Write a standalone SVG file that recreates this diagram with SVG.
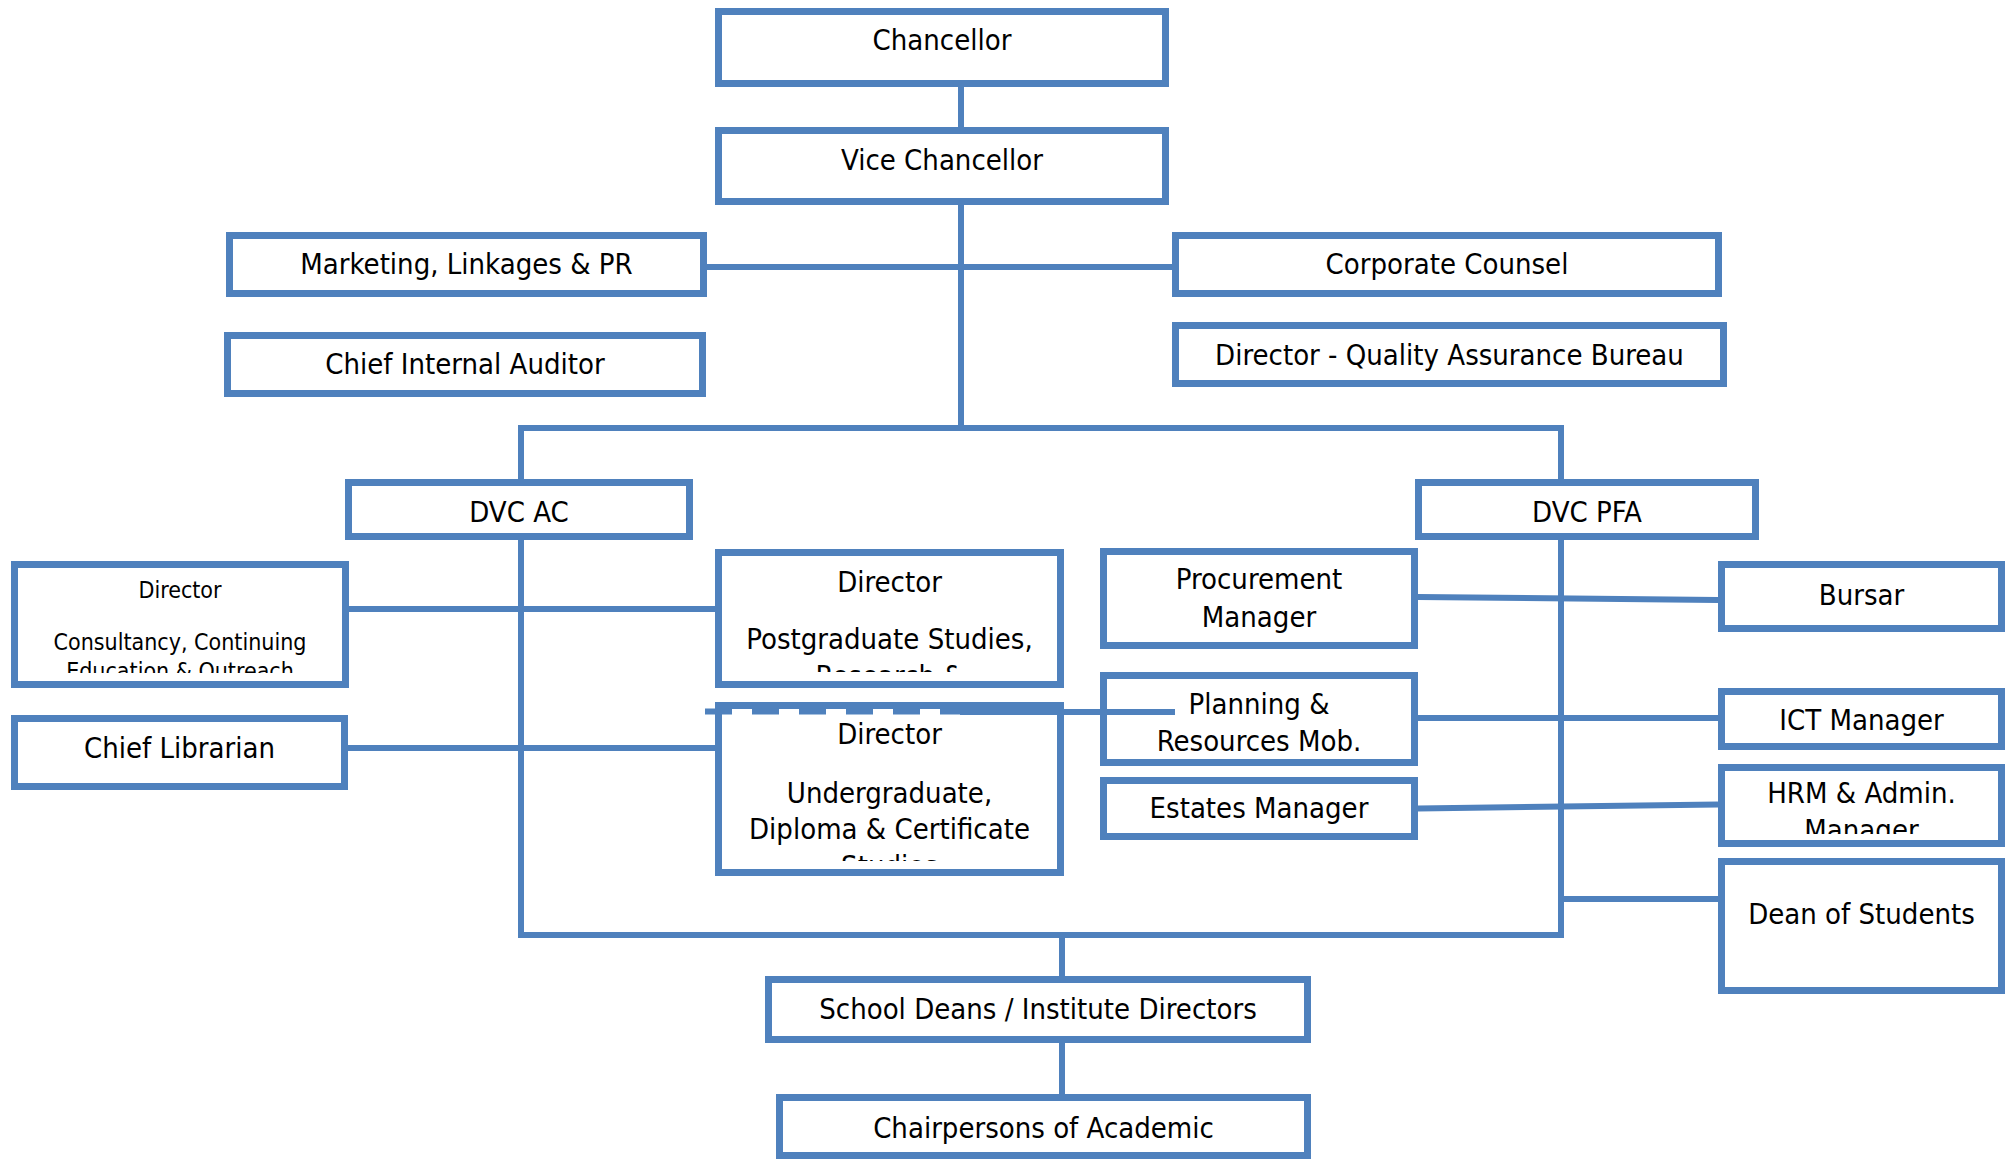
<svg xmlns="http://www.w3.org/2000/svg" width="2009" height="1159" viewBox="0 0 2009 1159">
  <style>
    .box { fill: #fff; stroke: #4F81BD; stroke-width: 7; }
    .ln { fill: none; stroke: #4F81BD; stroke-width: 6; stroke-linejoin: miter; stroke-linecap: butt; }
    .dash { fill: none; stroke: #4F81BD; stroke-width: 6; stroke-dasharray: 27 20; }
    .t { font-family: "DejaVu Sans Condensed", "DejaVu Sans", sans-serif; font-stretch: condensed; font-size: 29px; fill: #000; text-anchor: middle; }
    .s { font-size: 23px; }
  </style>
  <defs>
    <clipPath id="clipCceo"><rect x="14" y="564" width="332" height="109"/></clipPath>
    <clipPath id="clipPg"><rect x="718" y="552" width="343" height="120"/></clipPath>
    <clipPath id="clipUg"><rect x="718" y="705" width="343" height="156"/></clipPath>
    <clipPath id="clipHrm"><rect x="1721" y="767" width="281" height="67"/></clipPath>
  </defs>

  <rect width="2009" height="1159" fill="#fff"/>

  <!-- connectors -->
  <g id="connectors">
    <line class="ln" x1="961" y1="86" x2="961" y2="128"/>
    <line class="ln" x1="961" y1="205" x2="961" y2="428"/>
    <line class="ln" x1="707" y1="267" x2="1172" y2="267"/>
    <path class="ln" d="M521,480 V428 H1561 V480"/>
    <path class="ln" d="M521,540 V935 H1561 V540"/>
    <line class="ln" x1="1062" y1="935" x2="1062" y2="976"/>
    <line class="ln" x1="1062" y1="1043" x2="1062" y2="1094"/>
    <line class="ln" x1="349" y1="609" x2="715" y2="609"/>
    <line class="ln" x1="348" y1="748" x2="715" y2="748"/>
    <line class="ln" x1="1418" y1="597" x2="1718" y2="600"/>
    <line class="ln" x1="1418" y1="718" x2="1718" y2="718"/>
    <line class="ln" x1="1418" y1="808.5" x2="1718" y2="804.5"/>
    <line class="ln" x1="1561" y1="899" x2="1718" y2="899"/>
  </g>

  <!-- nodes -->
  <g id="chancellor">
    <rect class="box" x="718.5" y="11.5" width="447" height="72"/>
    <text class="t" x="942" y="50">Chancellor</text>
  </g>
  <g id="vice-chancellor">
    <rect class="box" x="718.5" y="130.5" width="447" height="71"/>
    <text class="t" x="942" y="170">Vice Chancellor</text>
  </g>
  <g id="marketing">
    <rect class="box" x="229.5" y="235.5" width="474" height="58"/>
    <text class="t" x="466.5" y="274">Marketing, Linkages &amp; PR</text>
  </g>
  <g id="internal-auditor">
    <rect class="box" x="227.5" y="335.5" width="475" height="58"/>
    <text class="t" x="465" y="374">Chief Internal Auditor</text>
  </g>
  <g id="corporate-counsel">
    <rect class="box" x="1175.5" y="235.5" width="543" height="58"/>
    <text class="t" x="1447" y="274">Corporate Counsel</text>
  </g>
  <g id="quality-assurance">
    <rect class="box" x="1175.5" y="325.5" width="548" height="58"/>
    <text class="t" x="1449.5" y="365">Director - Quality Assurance Bureau</text>
  </g>
  <g id="dvc-ac">
    <rect class="box" x="348.5" y="482.5" width="341" height="54"/>
    <text class="t" x="519" y="522">DVC AC</text>
  </g>
  <g id="dvc-pfa">
    <rect class="box" x="1418.5" y="482.5" width="337" height="54"/>
    <text class="t" x="1587" y="522">DVC PFA</text>
  </g>
  <g id="consultancy">
    <rect class="box" x="14.5" y="564.5" width="331" height="120"/>
    <g clip-path="url(#clipCceo)">
      <text class="t s" x="180" y="598">Director</text>
      <text class="t s" x="180" y="650">Consultancy, Continuing</text>
      <text class="t s" x="180" y="679">Education &amp; Outreach</text>
    </g>
  </g>
  <g id="librarian">
    <rect class="box" x="14.5" y="718.5" width="330" height="68"/>
    <text class="t" x="179.5" y="758">Chief Librarian</text>
  </g>
  <g id="postgraduate">
    <rect class="box" x="718.5" y="552.5" width="342" height="132"/>
    <g clip-path="url(#clipPg)">
      <text class="t" x="889.5" y="592">Director</text>
      <text class="t" x="889.5" y="649">Postgraduate Studies,</text>
      <text class="t" x="889.5" y="686">Research &amp;</text>
    </g>
  </g>
  <g id="undergraduate">
    <rect class="box" x="718.5" y="705.5" width="342" height="167"/>
    <g clip-path="url(#clipUg)">
      <text class="t" x="889.5" y="744">Director</text>
      <text class="t" x="889.5" y="803">Undergraduate,</text>
      <text class="t" x="889.5" y="839">Diploma &amp; Certificate</text>
      <text class="t" x="889.5" y="876">Studies</text>
    </g>
  </g>
  <!-- dashed link running along the top of the undergraduate box -->
  <g id="planning-link">
    <line class="dash" x1="705" y1="711.5" x2="960" y2="711.5"/>
    <line class="ln" x1="960" y1="712" x2="1175" y2="712"/>
  </g>
  <g id="procurement">
    <rect class="box" x="1103.5" y="551.5" width="311" height="94"/>
    <text class="t" x="1259" y="589">Procurement</text>
    <text class="t" x="1259" y="627">Manager</text>
  </g>
  <g id="planning">
    <rect class="box" x="1103.5" y="675.5" width="311" height="87" style="fill:none"/>
    <text class="t" x="1259" y="714">Planning &amp;</text>
    <text class="t" x="1259" y="751">Resources Mob.</text>
  </g>
  <g id="estates">
    <rect class="box" x="1103.5" y="780.5" width="311" height="56"/>
    <text class="t" x="1259" y="818">Estates Manager</text>
  </g>
  <g id="bursar">
    <rect class="box" x="1721.5" y="564.5" width="280" height="64"/>
    <text class="t" x="1861.5" y="605">Bursar</text>
  </g>
  <g id="ict">
    <rect class="box" x="1721.5" y="691.5" width="280" height="55"/>
    <text class="t" x="1861.5" y="730">ICT Manager</text>
  </g>
  <g id="hrm">
    <rect class="box" x="1721.5" y="767.5" width="280" height="76"/>
    <g clip-path="url(#clipHrm)">
      <text class="t" x="1861.5" y="803">HRM &amp; Admin.</text>
      <text class="t" x="1861.5" y="840">Manager</text>
    </g>
  </g>
  <g id="dean-students">
    <rect class="box" x="1721.5" y="861.5" width="280" height="129"/>
    <text class="t" x="1861.5" y="924">Dean of Students</text>
  </g>
  <g id="school-deans">
    <rect class="box" x="768.5" y="979.5" width="539" height="60"/>
    <text class="t" x="1038" y="1019">School Deans / Institute Directors</text>
  </g>
  <g id="chairpersons">
    <rect class="box" x="779.5" y="1097.5" width="528" height="58"/>
    <text class="t" x="1043.5" y="1138">Chairpersons of Academic</text>
  </g>
</svg>
